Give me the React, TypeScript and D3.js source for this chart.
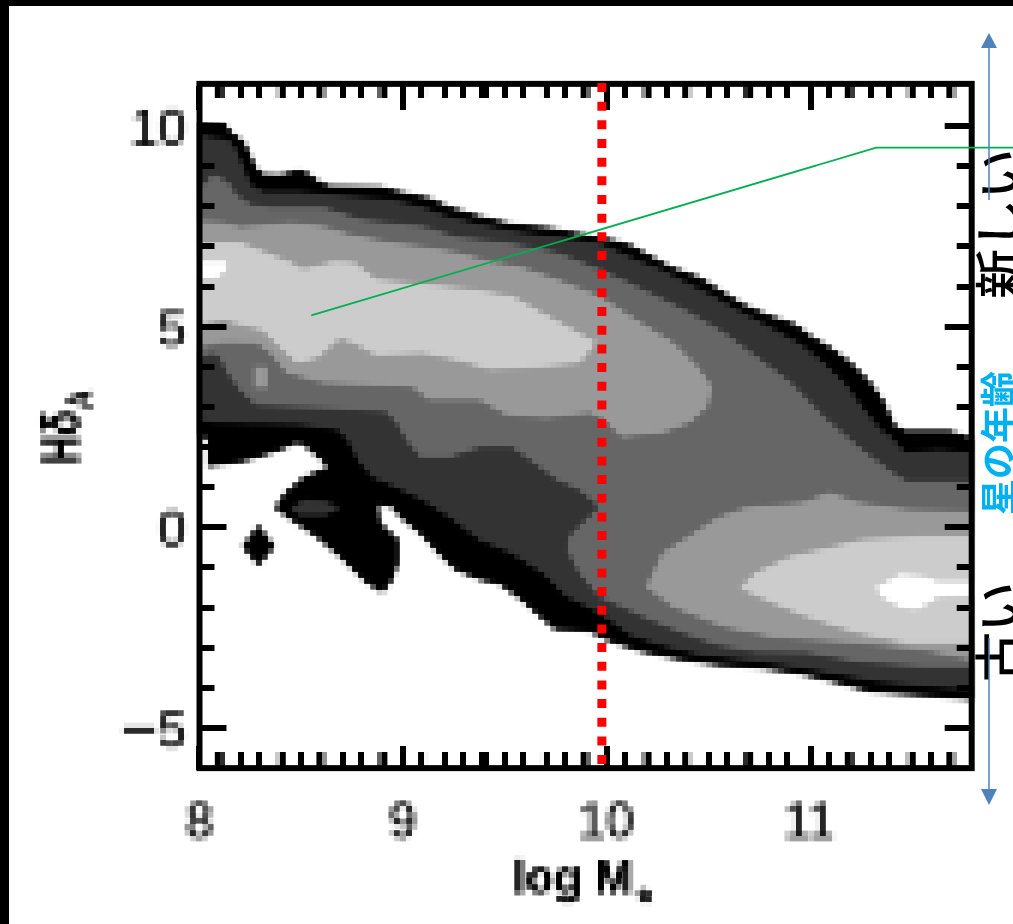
import React, { useRef, useEffect } from 'react';
import * as d3 from 'd3';

type Pt = [number, number];

const xTickLabels = [8, 9, 10, 11];
const yTickLabels = [10, 5, 0, -5];
const xMinorTicks = d3.range(80, 118).map(d => d / 10);
const yMinorTicks = d3.range(-5, 11);
const markerMass = 9.98;

// filled contours, [log M*, HdA], painted from the lowest level up
const contourBlack: Pt[] = [
  [8, 10.06], [8.13, 10.01], [8.16, 9.83], [8.22, 9.61], [8.25, 9.29], [8.28, 8.96], [8.31, 8.81], [8.4, 8.79],
  [8.49, 8.91], [8.54, 8.81], [8.59, 8.61], [8.64, 8.51], [8.89, 8.49], [8.99, 8.36], [9.13, 8.21], [9.23, 7.99],
  [9.38, 7.76], [9.53, 7.57], [9.72, 7.47], [9.92, 7.27], [10.03, 7.17], [10.12, 7.04], [10.22, 6.77], [10.32, 6.49],
  [10.46, 6.24], [10.56, 5.92], [10.68, 5.55], [10.81, 5.27], [10.93, 5.07], [11, 4.8], [11.1, 4.5], [11.2, 4.13],
  [11.3, 3.63], [11.37, 3.13], [11.42, 2.56], [11.47, 2.41], [11.69, 2.41], [11.8, 2.23], [11.8, -4.3], [11.55, -4.2],
  [11.3, -4.1], [11.15, -3.9], [10.96, -3.67], [10.76, -3.52], [10.56, -3.45], [10.36, -3.3], [10.17, -3.1],
  [10.02, -2.85], [9.92, -2.6], [9.75, -2.55], [9.68, -2.25], [9.58, -1.8], [9.48, -1.43], [9.38, -1.31], [9.26, -1.06],
  [9.18, -0.68], [9.09, -0.18], [8.99, 0.24], [8.95, 0.49], [8.88, 0.56], [8.89, 0.11], [8.98, -0.31], [8.98, -0.88],
  [8.95, -1.31], [8.9, -1.63], [8.82, -1.38], [8.69, -0.73], [8.58, -0.26], [8.45, 0.19], [8.37, 0.49], [8.42, 0.86],
  [8.51, 1.24], [8.63, 1.51], [8.6, 1.68], [8.51, 2.06], [8.48, 2.11], [8.4, 1.93], [8.3, 1.76], [8.21, 1.63],
  [8.04, 1.51], [8.04, 2.18], [8, 2.31],
];
const contourDiamond: Pt[] = [[8.29, 0.06], [8.37, -0.48], [8.29, -0.96], [8.21, -0.48]];

const contourDark: Pt[] = [
  [8, 9.76], [8.14, 9.66], [8.18, 9.41], [8.22, 8.91], [8.25, 8.54], [8.31, 8.36], [8.49, 8.36], [8.69, 8.26],
  [8.94, 8.16], [9.09, 7.99], [9.21, 7.76], [9.38, 7.54], [9.58, 7.34], [9.77, 7.22], [9.97, 7.07], [10.07, 6.84],
  [10.17, 6.62], [10.27, 6.42], [10.36, 6.19], [10.51, 5.8], [10.66, 5.37], [10.81, 4.97], [10.96, 4.55], [11.08, 4.05],
  [11.18, 3.55], [11.27, 2.93], [11.35, 2.43], [11.4, 2.26], [11.47, 1.86], [11.64, 1.93], [11.8, 1.86], [11.8, -4.05],
  [11.55, -3.95], [11.35, -3.85], [11.15, -3.67], [10.96, -3.5], [10.76, -3.35], [10.46, -3.17], [10.27, -2.93],
  [10.12, -2.68], [9.97, -2.13], [9.81, -1.73], [9.69, -1.13], [9.53, -0.63], [9.38, -0.31], [9.23, 0.26], [9.1, 0.69],
  [8.97, 0.99], [8.85, 1.26], [8.78, 1.68], [8.73, 2.18], [8.68, 2.43], [8.49, 2.56], [8.07, 2.61], [8, 2.68],
];
const contourDarkIsland: Pt[] = [[8.45, 0.49], [8.52, 0.69], [8.62, 0.64], [8.69, 0.49], [8.62, 0.31], [8.49, 0.31]];

const contourMid: Pt[] = [
  [8, 8.41], [8.07, 8.79], [8.14, 8.59], [8.18, 8.29], [8.25, 8.04], [8.36, 7.96], [8.61, 7.96], [8.8, 7.66],
  [9.1, 7.49], [9.27, 7.22], [9.51, 7.09], [9.76, 6.84], [9.92, 6.52], [10.08, 6.17], [10.25, 5.75], [10.41, 5.35],
  [10.58, 4.85], [10.74, 4.25], [10.91, 3.6], [11.07, 2.76], [11.24, 2.01], [11.4, 1.39], [11.48, 1.14], [11.8, 1.14],
  [11.8, -3.47], [11.56, -3.47], [11.24, -3.35], [10.99, -3.12], [10.74, -3.1], [10.55, -2.93], [10.38, -2.63],
  [10.22, -2.3], [10.08, -1.98], [9.97, -1.73], [9.87, -1.13], [9.81, -0.56], [9.82, -0.23], [9.97, 0.51], [9.87, 0.94],
  [9.76, 1.19], [9.63, 1.68], [9.54, 2.01], [9.38, 2.01], [9.23, 1.76], [9.09, 1.76], [9.02, 2.18], [8.97, 2.61],
  [8.92, 2.88], [8.61, 2.98], [8.28, 3.05], [8.2, 3.43], [8.14, 3.85], [8.1, 4.25], [8.07, 4.35], [8, 4.25],
];

const contourLight: Pt[] = [
  [8, 7.62], [8.12, 7.59], [8.2, 7.47], [8.45, 7.59], [8.61, 7.49], [8.74, 7.29], [8.94, 7.09], [9.1, 6.99],
  [9.27, 6.84], [9.43, 6.62], [9.59, 6.47], [9.76, 6.17], [9.97, 5.75], [10.17, 5.1], [10.33, 4.6], [10.45, 4],
  [10.52, 3.5], [10.5, 3.01], [10.41, 2.61], [10.28, 2.36], [10.08, 2.26], [9.99, 2.68], [9.92, 2.86], [9.71, 2.73],
  [9.51, 2.81], [9.38, 3.18], [9.13, 3.18], [9.05, 3.5], [8.61, 3.6], [8.43, 3.85], [8.35, 4.35], [8.28, 4.6],
  [8.12, 4.62], [8, 4.5],
];
const contourLightPatch: Pt[] = [[8.27, 4], [8.33, 4], [8.33, 3.48], [8.27, 3.48]];
const contourLightRight: Pt[] = [
  [11.8, 0.39], [11.48, 0.44], [11.24, 0.61], [11.1, 0.86], [10.97, 0.61], [10.69, 0.49], [10.55, 0.24], [10.41, -0.23],
  [10.28, -0.64], [10.2, -1.48], [10.33, -1.98], [10.58, -2.48], [10.82, -2.73], [11.24, -2.88], [11.56, -3.05], [11.8, -3.3],
];

const contourPale: Pt[] = [
  [8, 7.09], [8.2, 7.09], [8.31, 6.87], [8.45, 6.59], [8.51, 6.42], [8.66, 6.62], [8.76, 6.59], [8.87, 6.17],
  [9.1, 6.05], [9.35, 5.92], [9.54, 5.75], [9.68, 5.35], [9.81, 5], [9.95, 4.6], [9.87, 4.1], [9.68, 4],
  [9.43, 3.93], [9.3, 4.13], [9.1, 4.35], [8.87, 4.3], [8.76, 4.6], [8.69, 4.72], [8.58, 4.23], [8.48, 4.1],
  [8.41, 4.43], [8.31, 4.92], [8.12, 5.17], [8, 5.05],
];
const contourPaleRight: Pt[] = [
  [11.8, -0.23], [11.56, -0.23], [11.26, -0.31], [11.1, -0.51], [10.91, -0.73], [10.74, -1.13], [10.66, -1.51],
  [10.82, -1.88], [10.99, -2.23], [11.24, -2.63], [11.48, -2.88], [11.8, -2.88],
];

const contourWhite: Pt[] = [[8, 6.62], [8.13, 6.62], [8.13, 6.42], [8.08, 6.22], [8, 6.22]];
const contourWhiteRight: Pt[] = [
  [11.33, -1.51], [11.45, -1.18], [11.56, -1.23], [11.63, -1.36], [11.8, -1.36], [11.8, -1.68], [11.63, -1.73],
  [11.53, -2.05], [11.45, -1.98], [11.36, -1.73],
];

const contourLayers: [Pt[], string][] = [
  [contourBlack, '#000'], [contourDiamond, '#000'],
  [contourDark, '#333'], [contourDarkIsland, '#333'],
  [contourMid, '#666'],
  [contourLight, '#999'], [contourLightPatch, '#999'], [contourLightRight, '#999'],
  [contourPale, '#ccc'], [contourPaleRight, '#ccc'],
  [contourWhite, '#fff'], [contourWhiteRight, '#fff'],
];

// callout from the slide, pointing at the young galaxies
const calloutLine: Pt[] = [[8.55, 5.28], [11.33, 9.46]];

const App = () => {
  const ref = useRef<SVGSVGElement>(null);

  useEffect(() => {
    const svg = d3.select(ref.current);
    svg.selectAll('*').remove();

    const width = 1013;
    const height = 924;

    const x = d3.scaleLinear().domain([8, 11.8]).range([199.5, 971.7]);
    const y = d3.scaleLinear().domain([-5, 10]).range([728, 126]);
    const yTop = y(11.05);
    const yBottom = y(-6);

    // the plot is a low-res bitmap in the slide: sample it on a 6px grid
    const defs = svg.append('defs');
    const addPixelate = (id: string, blur: number) => {
      const f = defs.append('filter').attr('id', id)
        .attr('filterUnits', 'userSpaceOnUse')
        .attr('x', 0).attr('y', 0).attr('width', width).attr('height', height)
        .attr('color-interpolation-filters', 'sRGB');
      f.append('feGaussianBlur').attr('in', 'SourceGraphic').attr('stdDeviation', blur).attr('result', 'soft');
      f.append('feFlood').attr('x', 6).attr('y', 4).attr('width', 2).attr('height', 2).attr('flood-color', '#000');
      f.append('feComposite').attr('x', 4).attr('y', 2).attr('width', 6).attr('height', 6);
      f.append('feTile').attr('result', 'grid');
      f.append('feComposite').attr('in', 'soft').attr('in2', 'grid').attr('operator', 'in');
      f.append('feMorphology').attr('operator', 'dilate').attr('radius', 2);
    };
    addPixelate('pixelSoft', 1.5);
    addPixelate('pixelTitle', 0.9);
    addPixelate('pixelHard', 0.01);

    svg.append('rect').attr('width', width).attr('height', height).attr('fill', '#fff');
    // slide border
    svg.append('rect').attr('width', width).attr('height', 6).attr('fill', '#000');
    svg.append('rect').attr('width', 9).attr('height', height).attr('fill', '#000');

    const outline = d3.line<Pt>().x(d => x(d[0])).y(d => y(d[1]));

    const plot = svg.append('g').attr('filter', 'url(#pixelSoft)');
    plot.selectAll('path')
      .data(contourLayers)
      .enter()
      .append('path')
      .attr('d', d => outline(d[0]) + 'Z')
      .attr('fill', d => d[1]);

    const xTicks = svg.append('g').attr('filter', 'url(#pixelHard)').attr('stroke', '#000').attr('stroke-width', 6);
    xMinorTicks.forEach(v => {
      const major = xTickLabels.includes(v);
      xTicks.append('line').attr('x1', x(v)).attr('x2', x(v)).attr('y1', yTop).attr('y2', yTop + (major ? 27 : 15));
      xTicks.append('line').attr('x1', x(v)).attr('x2', x(v)).attr('y1', yBottom).attr('y2', yBottom - (major ? 21 : 15));
    });
    const yTicks = svg.append('g').attr('stroke', '#000').attr('stroke-width', 6);
    yMinorTicks.forEach(v => {
      const major = yTickLabels.includes(v);
      const yy = Math.round(y(v));
      yTicks.append('line').attr('x1', x(8)).attr('x2', x(8) + (major ? 27 : 15)).attr('y1', yy).attr('y2', yy);
      yTicks.append('line').attr('x1', x(11.8)).attr('x2', x(11.8) - (major ? 27 : 15)).attr('y1', yy).attr('y2', yy);
    });

    svg.append('rect')
      .attr('x', x(8)).attr('y', yTop)
      .attr('width', x(11.8) - x(8)).attr('height', yBottom - yTop)
      .attr('fill', 'none').attr('stroke', '#000').attr('stroke-width', 6);

    // labels are part of the same bitmap
    const labels = svg.append('g')
      .attr('filter', 'url(#pixelSoft)')
      .style('font-family', '"Liberation Sans", Arial, sans-serif')
      .attr('fill', '#000');

    labels.selectAll('.xl')
      .data(xTickLabels)
      .enter()
      .append('text')
      .attr('x', d => x(d))
      .attr('y', 838)
      .attr('text-anchor', 'middle')
      .attr('font-size', 50)
      .text(d => d);

    const yLabel = labels.selectAll('.yl')
      .data(yTickLabels)
      .enter()
      .append('text')
      .attr('x', 186)
      .attr('y', d => y(d) + 19)
      .attr('text-anchor', 'end')
      .attr('font-size', 50);
    yLabel.append('tspan')
      .attr('font-size', 64).attr('dy', 4)
      .text(d => (d < 0 ? '\u2212' : ''));
    yLabel.append('tspan')
      .attr('dy', d => (d < 0 ? -4 : 0))
      .text(d => Math.abs(d));

    const titles = svg.append('g')
      .attr('filter', 'url(#pixelTitle)')
      .style('font-family', '"Liberation Sans", Arial, sans-serif')
      .attr('fill', '#000');

    const xTitle = titles.append('text')
      .attr('x', 513).attr('y', 893)
      .attr('font-size', 46).attr('font-weight', 'bold')
      .text('log M');
    xTitle.append('tspan').attr('dx', 4).attr('dy', 23).attr('font-size', 40).text('*');

    const yTitle = titles.append('text')
      .attr('transform', 'translate(79,464) rotate(-90) scale(1,1.35)')
      .attr('font-size', 40).attr('font-weight', 'bold')
      .text('H\u03b4');
    yTitle.append('tspan').attr('dx', 2).attr('dy', 9).attr('font-size', 26).text('A');

    // slide annotations on top of the figure
    svg.append('line')
      .attr('x1', x(markerMass)).attr('x2', x(markerMass))
      .attr('y1', 83).attr('y2', 766)
      .attr('stroke', '#ff0000').attr('stroke-width', 9)
      .attr('stroke-dasharray', '9 9.67');

    svg.append('path')
      .attr('d', `M${x(calloutLine[0][0])},${y(calloutLine[0][1])}L${x(calloutLine[1][0])},${y(calloutLine[1][1])}H${width}`)
      .attr('fill', 'none').attr('stroke', '#00b050').attr('stroke-width', 1.75);

    const jpFont = '"Noto Sans CJK JP", sans-serif';
    const sideText = (label: string, cx: number, cy: number, size: number, color: string, weight: string) => {
      svg.append('text')
        .attr('transform', `translate(${cx},${cy}) rotate(-90)`)
        .attr('text-anchor', 'middle')
        .attr('font-size', size).attr('font-weight', weight)
        .attr('fill', color)
        .style('font-family', jpFont)
        .text(label);
    };
    sideText('新しい', 1018, 224, 50, '#000', '500');
    sideText('古い', 1018, 632, 50, '#000', '500');
    sideText('星の年齢', 1012, 443, 36, '#00b0f0', '700');

    const arrowColor = '#4f81bd';
    svg.append('line').attr('x1', 989).attr('x2', 989).attr('y1', 42).attr('y2', 200)
      .attr('stroke', arrowColor).attr('stroke-width', 1.5);
    svg.append('line').attr('x1', 989).attr('x2', 989).attr('y1', 638).attr('y2', 795)
      .attr('stroke', arrowColor).attr('stroke-width', 1.5);
    svg.append('path').attr('d', 'M989,33L997,48H981Z').attr('fill', arrowColor);
    svg.append('path').attr('d', 'M989,805L997,789H981Z').attr('fill', arrowColor);
  }, []);

  return <svg ref={ref} width={1013} height={924} style={{ position: 'absolute', left: 0, top: 0 }}></svg>;
};

export default App;
